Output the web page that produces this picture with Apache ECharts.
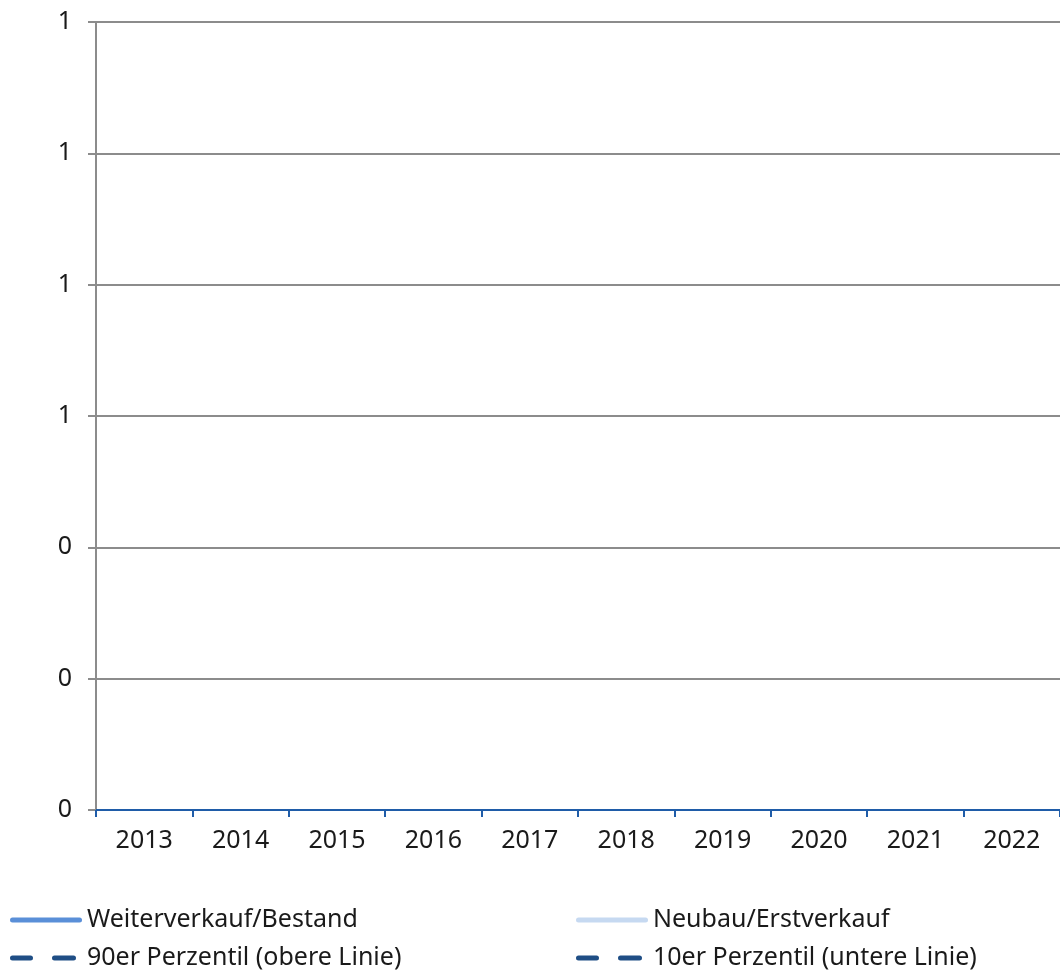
<!DOCTYPE html>
<html lang="de">
  <head>
    <meta charset="UTF-8" />
    <title>Weiterverkauf / Neubau</title>
    <script src="https://cdn.jsdelivr.net/npm/echarts@6/dist/echarts.min.js"></script>
    <style>
      html, body { margin: 0; padding: 0; background: #fff; }
    </style>
  </head>
  <body>
    <div id="chart" style="width: 1060px; height: 970px"></div>
    <script>
      // Jahre auf der x-Achse
      const years = ["2013", "2014", "2015", "2016", "2017", "2018", "2019", "2020", "2021", "2022"];
      // Keine Werte im Bild sichtbar -> leere Reihen
      const weiterverkauf = [null, null, null, null, null, null, null, null, null, null];
      const neubau = [null, null, null, null, null, null, null, null, null, null];
      const p90 = [null, null, null, null, null, null, null, null, null, null];
      const p10 = [null, null, null, null, null, null, null, null, null, null];

      const names = [
        "Weiterverkauf/Bestand",
        "Neubau/Erstverkauf",
        "90er Perzentil (obere Linie)",
        "10er Perzentil (untere Linie)",
      ];

      const font = "'Noto Sans', 'Open Sans', sans-serif";

      // Legendensymbole: durchgezogene und gestrichelte Linie mit runden Enden
      const solidIcon = "path://M2.5,0 H69.5 A2.5,2.5 0 0 1 69.5,5 H2.5 A2.5,2.5 0 0 1 2.5,0 Z";
      const dashIcon =
        "path://M2.5,0 H20.5 A2.5,2.5 0 0 1 20.5,5 H2.5 A2.5,2.5 0 0 1 2.5,0 Z " +
        "M44.5,0 H63.5 A2.5,2.5 0 0 1 63.5,5 H44.5 A2.5,2.5 0 0 1 44.5,0 Z M72,0 L72,5 Z";

      var chart = echarts.init(document.getElementById("chart"));

      function legendItem(name, icon, left, top) {
        return {
          left: left,
          top: top,
          padding: 0,
          itemWidth: 72,
          itemHeight: 5,
          selectedMode: false,
          data: [{ name: name, icon: icon }],
          textStyle: { fontSize: 25, lineHeight: 30, color: "#1a1a1a", fontFamily: font },
        };
      }

      var option = {
        animation: false,
        textStyle: { fontFamily: font },
        grid: { left: 96, right: 0, top: 22, bottom: 160, containLabel: false },
        legend: [
          legendItem(names[0], solidIcon, 10, 905),
          legendItem(names[2], dashIcon, 10, 943),
          legendItem(names[1], solidIcon, 576, 905),
          legendItem(names[3], dashIcon, 576, 943),
        ],
        xAxis: {
          type: "category",
          data: years,
          boundaryGap: true,
          axisLine: { lineStyle: { color: "#1f5ca8", width: 2 } },
          axisTick: { show: true, length: 7, lineStyle: { color: "#1f5ca8", width: 2 } },
          axisLabel: { fontSize: 25, color: "#1a1a1a", margin: 18, fontFamily: font },
          splitLine: { show: false },
        },
        yAxis: {
          type: "value",
          min: 0,
          max: 1.2,
          interval: 0.2,
          axisLine: { show: true, lineStyle: { color: "#8c8c8c", width: 2 } },
          axisTick: { show: true, length: 8, lineStyle: { color: "#8c8c8c", width: 2 } },
          axisLabel: {
            fontSize: 25,
            color: "#1a1a1a",
            margin: 24,
            fontFamily: font,
            formatter: function (v) {
              return String(Math.round(v));
            },
          },
          splitLine: { show: true, lineStyle: { color: "#8c8c8c", width: 2 } },
        },
        series: [
          {
            name: names[0],
            type: "line",
            data: weiterverkauf,
            symbol: "none",
            color: "#5a8fd8",
            lineStyle: { width: 5, color: "#5a8fd8", cap: "round" },
          },
          {
            name: names[1],
            type: "line",
            data: neubau,
            symbol: "none",
            color: "#c6d9f1",
            lineStyle: { width: 5, color: "#c6d9f1", cap: "round" },
          },
          {
            name: names[2],
            type: "line",
            data: p90,
            symbol: "none",
            color: "#1f4e85",
            lineStyle: { width: 5, color: "#1f4e85", type: [22, 20], cap: "round" },
          },
          {
            name: names[3],
            type: "line",
            data: p10,
            symbol: "none",
            color: "#1f4e85",
            lineStyle: { width: 5, color: "#1f4e85", type: [22, 20], cap: "round" },
          },
        ],
      };

      option && chart.setOption(option);
    </script>
  </body>
</html>
